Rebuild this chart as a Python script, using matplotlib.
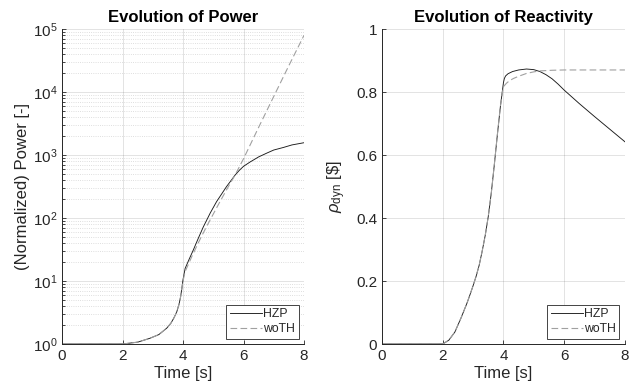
import matplotlib
matplotlib.use("Agg")
import matplotlib.pyplot as plt
from matplotlib.ticker import LogLocator, NullFormatter

plt.rcParams['font.family'] = ['Liberation Sans', 'DejaVu Sans']
plt.rcParams['mathtext.fontset'] = 'custom'
plt.rcParams['mathtext.rm'] = 'Liberation Sans'
plt.rcParams['mathtext.it'] = 'Liberation Sans:italic'

# --- data ---
t_p_hzp = [0, 2.0, 2.5, 2.9, 3.2, 3.46, 3.6, 3.7, 3.79, 3.87, 3.92, 3.96, 4.0,
           4.07, 4.2, 4.34, 4.5, 4.67, 4.9, 5.11, 5.3, 5.44, 5.6, 5.72, 5.86,
           6.0, 6.22, 6.5, 6.77, 7.0, 7.32, 7.6, 8.0]
p_hzp = [1, 1, 1.07, 1.23, 1.41, 1.78, 2.14, 2.6, 3.2, 4.3, 5.6, 7.5, 10.5,
         15.8, 22, 31, 47, 72, 120, 182, 250, 316, 400, 479, 570,
         661, 776, 933, 1072, 1200, 1318, 1445, 1567]

t_p_woth = [0, 2.0, 2.5, 2.9, 3.2, 3.46, 3.6, 3.7, 3.79, 3.87, 3.92, 3.96, 4.0,
            4.07, 4.3, 4.6, 4.84, 5.2, 5.5, 5.72, 6.0, 6.5, 7.0, 7.5, 8.0]
p_woth = [1, 1, 1.07, 1.23, 1.41, 1.78, 2.14, 2.6, 3.2, 4.3, 5.6, 7.5, 10.0,
          14.1, 25, 50, 83, 174, 316, 479, 871, 2750, 8510, 26300, 79400]

t_r_hzp = [0, 2.0, 2.2, 2.4, 2.6, 2.8, 2.9, 3.0, 3.1, 3.2, 3.3, 3.4, 3.5, 3.6, 3.7, 3.8, 3.9,
           3.96, 4.0, 4.03, 4.07, 4.15, 4.3, 4.5, 4.76, 5.0, 5.2, 5.4, 5.6, 5.8,
           6.0, 6.5, 7.0, 7.5, 8.0]
rho_hzp = [0, 0, 0.012, 0.038, 0.082, 0.13, 0.157, 0.185, 0.215, 0.25, 0.295, 0.345, 0.405,
           0.48, 0.57, 0.665, 0.755, 0.80, 0.830, 0.843, 0.851, 0.858, 0.865, 0.870, 0.873,
           0.871, 0.865, 0.855, 0.842, 0.825, 0.806, 0.763, 0.722, 0.682, 0.642]

t_r_woth = [0, 2.0, 2.2, 2.4, 2.6, 2.8, 2.9, 3.0, 3.1, 3.2, 3.3, 3.4, 3.5, 3.6, 3.7, 3.8, 3.9,
            3.96, 4.0, 4.1, 4.2, 4.33, 4.5, 4.76, 5.0, 5.2, 5.6, 6.0, 7.0, 8.0]
rho_woth = [0, 0, 0.012, 0.038, 0.082, 0.13, 0.157, 0.185, 0.215, 0.25, 0.295, 0.345, 0.405,
            0.48, 0.57, 0.665, 0.755, 0.795, 0.817, 0.828, 0.836, 0.843, 0.850, 0.859, 0.864,
            0.867, 0.869, 0.870, 0.870, 0.870]

x_ticks = [0, 2, 4, 6, 8]
rho_ticks = [0, 0.2, 0.4, 0.6, 0.8, 1]
rho_ticklabels = ['0', '0.2', '0.4', '0.6', '0.8', '1']

txt = '#262626'
grid_kw = dict(color='#262626', alpha=0.15, linewidth=0.6)


def style(ax):
    for s in ('top', 'right'):
        ax.spines[s].set_visible(False)
    for s in ('left', 'bottom'):
        ax.spines[s].set_color(txt)
        ax.spines[s].set_linewidth(0.7)
    ax.tick_params(which='both', direction='in', colors=txt, labelsize=11, width=0.6)
    ax.tick_params(which='major', length=3)
    ax.tick_params(which='minor', length=1.8)
    ax.grid(True, which='major', linestyle='-', **grid_kw)
    ax.set_axisbelow(True)
    ax.set_xlim(0, 8)
    ax.set_xticks(x_ticks)
    ax.set_xlabel('Time [s]', fontsize=12, color=txt, labelpad=2)
    leg = ax.legend(loc='lower right', fontsize=8.8, fancybox=False, framealpha=1,
                    edgecolor=txt, handlelength=2.6, handletextpad=0.1,
                    borderpad=0.3, labelspacing=0.2, borderaxespad=0.45)
    leg.get_frame().set_linewidth(0.6)
    for t in leg.get_texts():
        t.set_color(txt)


fig = plt.figure(figsize=(6.36, 3.91), dpi=100)
ax1 = fig.add_axes([0.0975, 0.1202, 0.3805, 0.8056])
ax2 = fig.add_axes([0.6006, 0.1202, 0.382, 0.8056])

# power
ax1.plot(t_p_hzp, p_hzp, color='#1a1a1a', linewidth=0.65, label='HZP')
ax1.plot(t_p_woth, p_woth, color='#a0a0a0', linewidth=0.8, linestyle=(0, (6, 3)), label='woTH')
ax1.set_yscale('log')
ax1.set_ylim(1, 1e5)
ax1.yaxis.set_major_locator(LogLocator(base=10, numticks=10))
ax1.yaxis.set_minor_locator(LogLocator(base=10, subs=range(2, 10), numticks=50))
ax1.yaxis.set_minor_formatter(NullFormatter())
ax1.grid(True, which='minor', axis='y', linestyle=':', color='#262626', alpha=0.2, linewidth=0.6)
ax1.set_ylabel('(Normalized) Power [-]', fontsize=12, color=txt, labelpad=2)
ax1.set_title('Evolution of Power', fontsize=12, fontweight='bold', color='black', pad=5)
style(ax1)

# reactivity
ax2.plot(t_r_hzp, rho_hzp, color='#1a1a1a', linewidth=0.65, label='HZP')
ax2.plot(t_r_woth, rho_woth, color='#a0a0a0', linewidth=0.8, linestyle=(0, (6, 3)), label='woTH')
ax2.set_ylim(0, 1)
ax2.set_yticks(rho_ticks)
ax2.set_yticklabels(rho_ticklabels)
ax2.set_ylabel(r'$\rho_{\mathrm{dyn}}$ [\$]', fontsize=12, color=txt, labelpad=6)
ax2.set_title('Evolution of Reactivity', fontsize=12, fontweight='bold', color='black', pad=5)
style(ax2)

fig.savefig('out.png', dpi=100)
